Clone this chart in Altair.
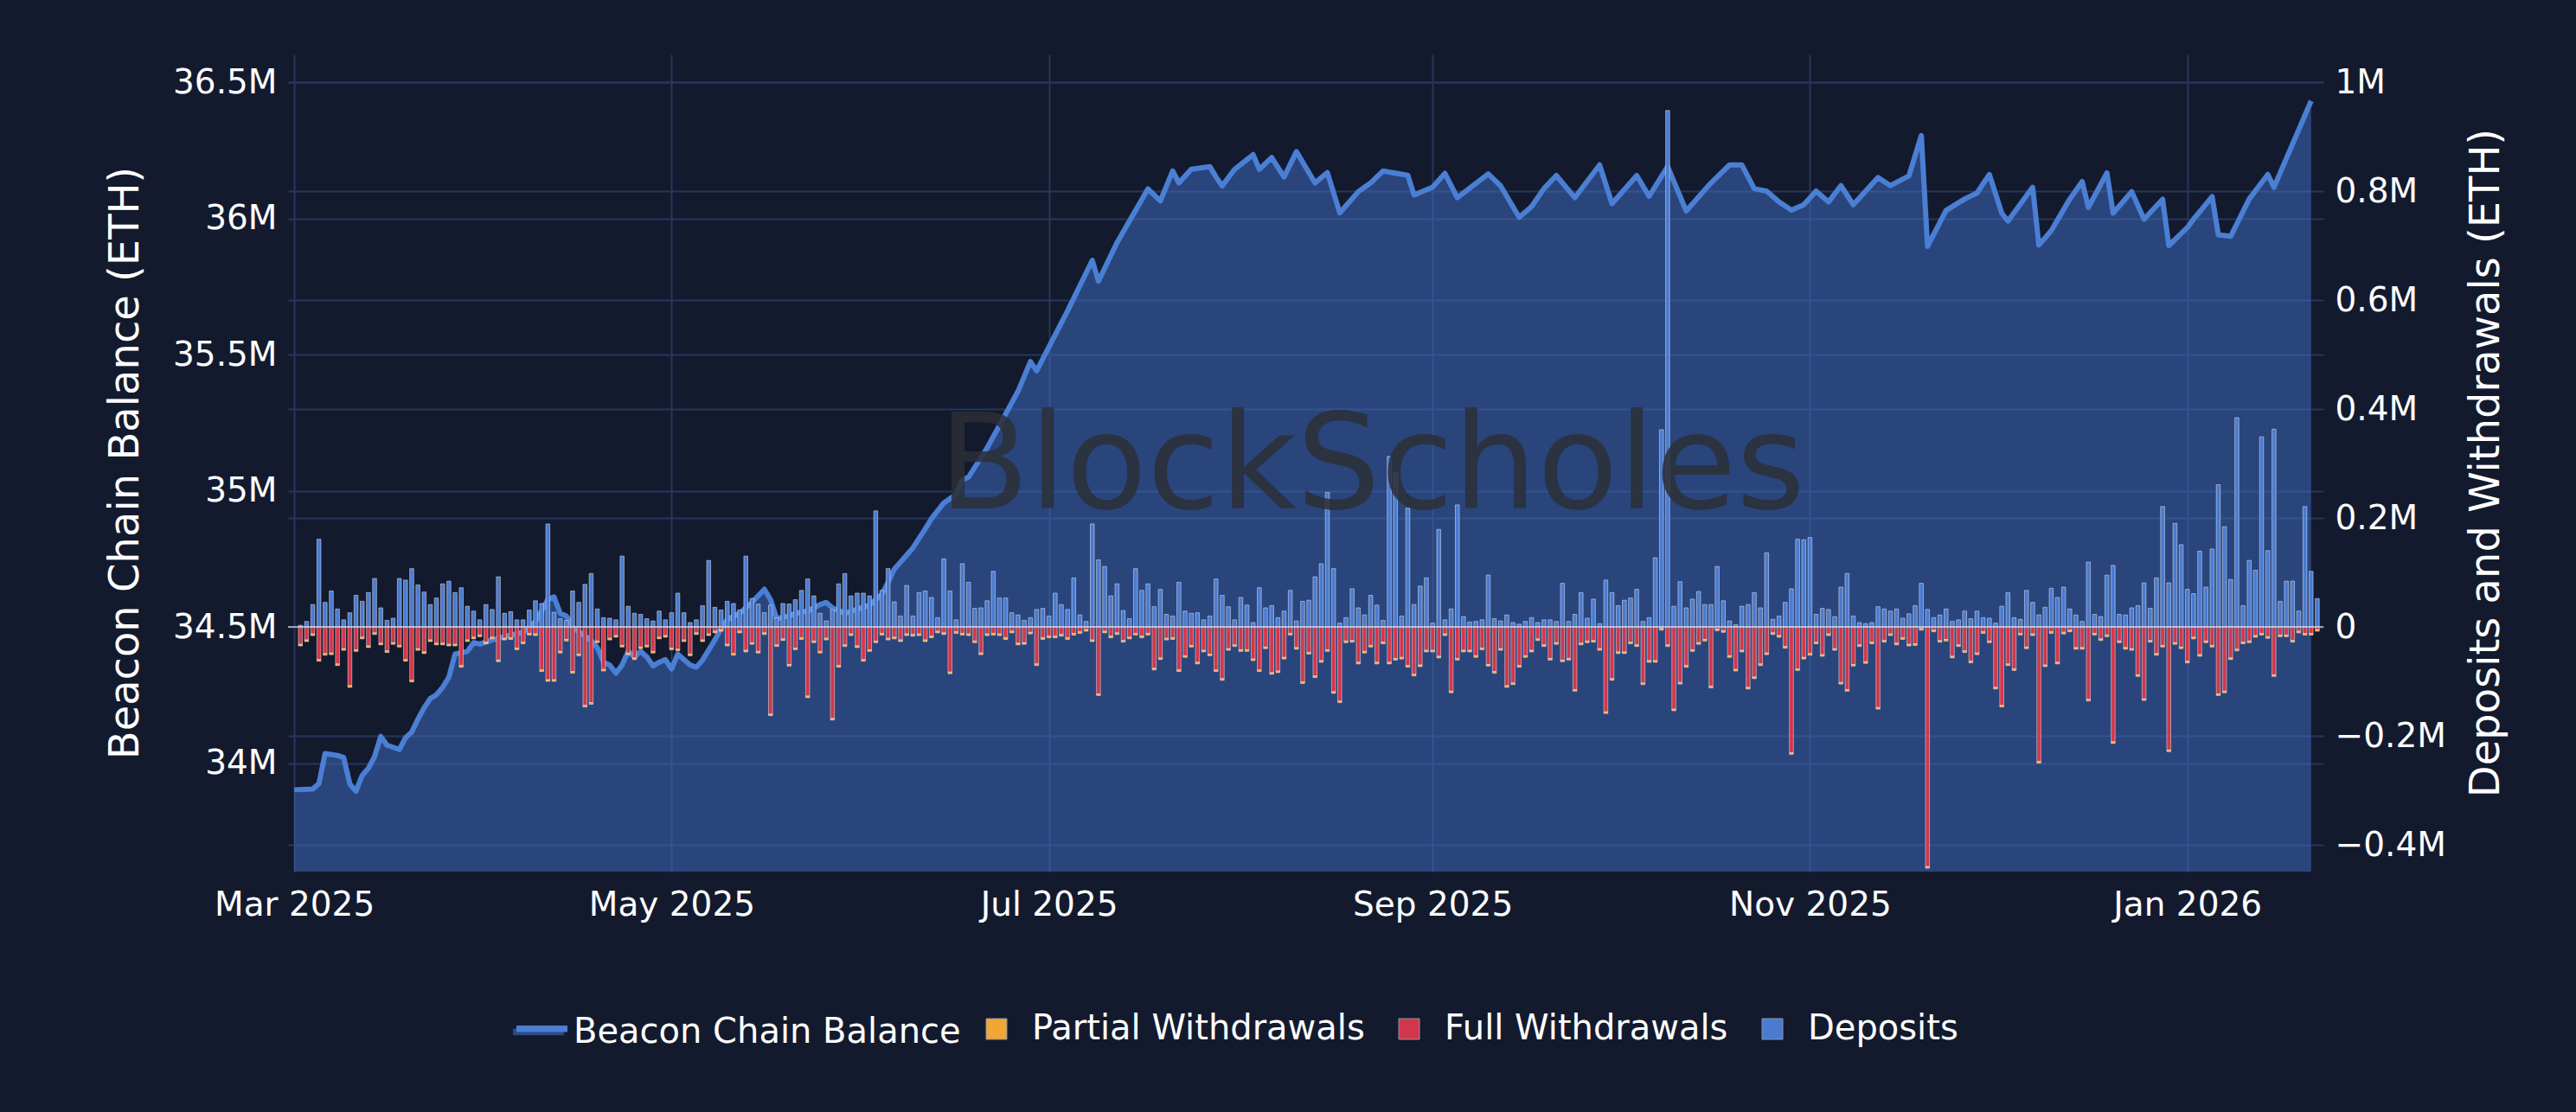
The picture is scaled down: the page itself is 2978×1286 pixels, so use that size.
import datetime as dt
import jinja2
import pandas as pd
import altair as alt

FONT = "DejaVu Sans"
BG = "#131a2e"
GRID = "#27365a"

# ---- daily flows (thousand ETH), bars from 2025-03-02 onward ----
deposits = [
    3, 10, 41, 161, 45, 66, 33, 13, 26, 58,
    47, 63, 89, 35, 12, 16, 89, 86, 107, 77,
    64, 41, 53, 79, 84, 63, 72, 38, 29, 13,
    41, 32, 92, 25, 28, 13, 13, 31, 48, 43,
    189, 27, 15, 12, 66, 45, 78, 98, 33, 17,
    16, 13, 130, 38, 25, 23, 15, 11, 29, 13,
    26, 62, 26, 8, 13,
    39, 122, 36, 31, 47,
    43, 31, 130, 52, 42, 26, 40, 17, 43, 42,
    50, 67, 88, 57, 25, 11, 32, 79, 98, 57,
    62, 62, 57, 213, 67, 107, 46, 20, 76, 20,
    63, 66, 54, 17, 125, 66, 13, 116, 82, 34,
    35, 48, 102, 53, 53, 26, 22, 12, 17, 32,
    34, 20, 62, 41, 32, 90, 22, 10, 189, 123,
    111, 57, 79, 30, 15, 107, 67, 79, 37, 69,
    23, 20, 82, 29, 25, 26, 13, 20, 88, 58,
    37, 13, 54, 40, 8, 72, 35, 39, 17, 29,
    67, 11, 47, 49, 92, 116, 247, 107, 7, 17,
    70, 35, 22, 58, 40, 12, 313, 283, 20, 218,
    41, 75, 90, 7, 179, 13, 33, 224, 19, 9,
    10, 13, 95, 15, 11, 22,
    8, 5, 10, 17, 8, 13, 13, 10, 80, 10,
    23, 63, 16, 51, 6, 86, 63, 39, 49, 53,
    69, 10, 17, 127, 362, 948, 38, 83, 35, 51,
    65, 41, 41, 111, 48, 11, 4, 38, 41, 63,
    35, 136, 14, 20, 45, 70, 161, 160, 164, 23,
    34, 32, 19, 73, 98, 20, 8, 6, 8, 37,
    33, 29, 33, 16, 24,
    39, 80, 32, 17, 22, 33, 10, 13, 29, 15,
    29, 17, 16, 7, 38, 63, 17, 14, 67, 45,
    22, 36, 71, 54, 73, 33, 22, 10, 119, 23,
    19, 95, 113, 23, 22, 35, 39, 81, 34, 90,
    221, 81, 190, 151, 69, 61, 139, 73, 143, 261,
    184, 87, 384, 39, 122, 104, 349, 140, 363, 47,
    84, 84, 29, 221, 102, 52,
]

full_withdrawals = [
    32, 24, 13, 60, 49, 48, 68, 40, 108, 42,
    19, 35, 11, 30, 44, 29, 34, 60, 98, 40,
    46, 24, 30, 30, 32, 32, 71, 24, 19, 15,
    28, 19, 61, 21, 20, 39, 28, 12, 13, 79,
    97, 97, 45, 23, 82, 50, 144, 139, 26, 78,
    21, 16, 34, 48, 57, 37, 34, 45, 19, 16,
    39, 41, 24, 50, 11,
    24, 13, 8, 5, 32,
    49, 8, 43, 29, 45, 11, 160, 33, 22, 69,
    39, 20, 127, 26, 45, 21, 168, 71, 33, 13,
    35, 60, 42, 26, 12, 21, 19, 24, 13, 14,
    13, 24, 17, 8, 11, 83, 9, 12, 13, 26,
    48, 13, 12, 13, 20, 8, 30, 29, 10, 68,
    20, 17, 17, 14, 20, 12, 9, 5, 24, 123,
    8, 17, 11, 25, 19, 12, 17, 12, 76, 57,
    21, 20, 79, 53, 34, 65, 43, 50, 79, 95,
    40, 33, 42, 42, 59, 79, 37, 84, 81, 56,
    12, 38, 101, 47, 90, 62, 42, 119, 136, 26,
    25, 65, 45, 34, 65, 28, 65, 58, 56, 71,
    87, 70, 43, 43, 54, 13, 118, 58, 43, 43,
    53, 39, 69, 82, 40, 108,
    103, 71, 53, 43, 22, 33, 58, 29, 61, 58,
    115, 30, 26, 25, 40, 156, 95, 46, 46, 28,
    33, 103, 62, 62, 3, 33, 151, 102, 71, 42,
    29, 23, 109, 4, 7, 53, 78, 43, 111, 92,
    68, 48, 11, 16, 36, 231, 77, 56, 49, 28,
    51, 13, 40, 102, 115, 69, 33, 64, 28, 148,
    25, 13, 30, 20, 32,
    31, 3, 440, 6, 25, 23, 54, 33, 44, 63,
    48, 9, 26, 111, 144, 68, 77, 12, 37, 13,
    247, 70, 9, 65, 10, 6, 38, 38, 133, 12,
    22, 15, 211, 26, 38, 40, 88, 132, 25, 49,
    34, 226, 29, 37, 63, 19, 51, 26, 34, 123,
    118, 57, 41, 28, 26, 16, 12, 18, 88, 15,
    15, 25, 8, 12, 12, 5,
]

partial_withdrawals = [
    3, 3, 3, 3, 3, 3, 3, 3, 3, 3, 3, 3, 3, 3, 3, 3, 3, 3, 3, 3, 3, 3, 3, 3, 3, 3, 3, 3, 3, 3,
    3, 3, 3, 3, 3, 3, 3, 3, 3, 3, 3, 3, 3, 3, 3, 3, 3, 3, 3, 3, 3, 3, 3, 3, 3, 3, 3, 3, 3, 3,
    3, 3, 3, 3, 3, 3, 3, 3, 3, 3, 3, 3, 3, 3, 3, 3, 3, 3, 3, 3, 3, 3, 3, 3, 3, 3, 3, 3, 3, 3,
    3, 3, 3, 3, 3, 3, 3, 3, 3, 3, 3, 3, 3, 3, 3, 3, 3, 3, 3, 3, 3, 3, 3, 3, 3, 3, 3, 3, 3, 3,
    3, 3, 3, 3, 3, 3, 3, 3, 3, 3, 3, 3, 3, 3, 3, 3, 3, 3, 3, 3, 3, 3, 3, 3, 3, 3, 3, 3, 3, 3,
    3, 3, 3, 3, 3, 3, 3, 3, 3, 3, 3, 3, 3, 3, 3, 3, 3, 3, 3, 3, 3, 3, 3, 3, 3, 3, 3, 3, 3, 3,
    3, 3, 3, 3, 3, 3, 3, 3, 3, 3, 3, 3, 3, 3, 3, 3, 3, 3, 3, 3, 3, 3, 3, 3, 3, 3, 3, 3, 3, 3,
    3, 3, 3, 3, 3, 3, 3, 3, 3, 3, 3, 3, 3, 3, 3, 3, 3, 3, 3, 3, 3, 3, 3, 3, 3, 3, 3, 3, 3, 3,
    3, 3, 3, 3, 3, 3, 3, 3, 3, 3, 3, 3, 3, 3, 3, 3, 3, 3, 3, 3, 3, 3, 3, 3, 3, 3, 3, 3, 3, 3,
    3, 3, 3, 3, 3, 3, 3, 3, 3, 3, 3, 3, 3, 3, 3, 3, 3, 3, 3, 3, 3, 3, 3, 3, 3, 3, 3, 3, 3, 3,
    3, 3, 3, 3, 3, 3, 3, 3, 3, 3, 3, 3, 3, 3, 3, 3, 3, 3, 3, 3, 3, 3, 3, 3, 3, 3, 3,
]

# ---- beacon chain balance (million ETH), day offsets from 2025-03-01 ----
bal_day = [
    0, 3, 4, 5, 7, 8, 9, 10, 11, 12, 13, 14, 15, 17, 18, 19, 20, 21, 22, 23,
    24, 25, 26, 28, 29, 30, 32, 35, 37, 39, 41, 42, 43, 44, 45, 48, 49, 50, 51, 52,
    53, 54, 55, 56, 57, 58, 59, 60, 61, 62, 64, 65, 66, 68, 69, 70, 72, 74, 76, 77,
    78, 80, 81, 83, 85, 86, 87, 88, 89, 93, 95, 96, 97, 100, 102, 103, 105, 107, 108, 109,
    112, 117, 119, 120, 125, 129, 130, 133, 138, 140, 142, 143, 145, 148, 149, 150, 152, 155, 156, 158,
    160, 162, 164, 165, 167, 169, 172, 174, 176, 180, 181, 184, 186, 188, 193, 195, 198, 200, 202, 204,
    207, 211, 213, 217, 219, 222, 225, 229, 232, 234, 236, 238, 240, 242, 244, 246, 248, 250, 252, 254,
    256, 258, 261, 263, 264, 267, 270, 272, 274, 276, 277, 281, 282, 284, 287, 289, 290, 293, 294, 297,
    299, 302, 303, 306, 307, 310, 311, 313, 316, 319, 320, 326,
]
bal_value = [
    33.902, 33.905, 33.925, 34.035, 34.028, 34.02, 33.923, 33.897, 33.955, 33.981,
    34.024, 34.098, 34.066, 34.050, 34.093, 34.114, 34.161, 34.203, 34.237, 34.251,
    34.278, 34.315, 34.40, 34.41, 34.442, 34.437, 34.452, 34.47, 34.48, 34.52,
    34.60, 34.61, 34.55, 34.54, 34.50, 34.45, 34.424, 34.37, 34.36, 34.33,
    34.36, 34.41, 34.39, 34.41, 34.39, 34.357, 34.37, 34.38, 34.346, 34.40,
    34.36, 34.352, 34.378, 34.452, 34.495, 34.527, 34.55, 34.59, 34.638, 34.60,
    34.53, 34.54, 34.55, 34.558, 34.582, 34.59, 34.57, 34.56, 34.55, 34.58,
    34.62, 34.664, 34.712, 34.79, 34.86, 34.897, 34.955, 34.987, 35.04, 35.05,
    35.157, 35.365, 35.474, 35.44, 35.66, 35.846, 35.769, 35.911, 36.108, 36.064,
    36.174, 36.13, 36.18, 36.19, 36.152, 36.119, 36.18, 36.234, 36.18, 36.223,
    36.152, 36.245, 36.168, 36.13, 36.168, 36.02, 36.098, 36.13, 36.174, 36.158,
    36.086, 36.114, 36.165, 36.076, 36.163, 36.119, 36.004, 36.043, 36.109, 36.157,
    36.076, 36.196, 36.054, 36.157, 36.081, 36.19, 36.027, 36.13, 36.196, 36.196,
    36.109, 36.10, 36.06, 36.03, 36.05, 36.10, 36.06, 36.12, 36.05, 36.10,
    36.15, 36.12, 36.156, 36.304, 35.897, 36.029, 36.071, 36.093, 36.161, 36.019,
    35.99, 36.114, 35.902, 35.955, 36.071, 36.135, 36.04, 36.167, 36.019, 36.098,
    35.997, 36.07, 35.90, 35.966, 35.997, 36.08, 35.94, 35.934, 36.071, 36.161,
    36.114, 36.431,
]

series_names = ["Partial Withdrawals", "Full Withdrawals", "Deposits"]
series_colors = ["#f0a733", "#d1374a", "#4a7bd0"]
balance_name = "Beacon Chain Balance"

left_ticks = [34, 34.5, 35, 35.5, 36, 36.5]
right_ticks = [-400, -200, 0, 200, 400, 600, 800, 1000]

# ---- tables ----
bar_start = dt.date(2025, 3, 2)
bar_dates = [(bar_start + dt.timedelta(days=i)).isoformat() for i in range(len(deposits))]
rows = []
for i, d in enumerate(bar_dates):
    rows.append({"date": d, "series": "Deposits", "value": deposits[i], "ord": 0})
    rows.append({"date": d, "series": "Full Withdrawals", "value": -full_withdrawals[i], "ord": 1})
    rows.append({"date": d, "series": "Partial Withdrawals", "value": -partial_withdrawals[i], "ord": 2})
bars_df = pd.DataFrame(rows)

line_start = dt.date(2025, 3, 1)
line_df = pd.DataFrame({
    "date": [(line_start + dt.timedelta(days=d)).isoformat() for d in bal_day],
    "balance": bal_value,
    "line_name": balance_name,
    "area_name": balance_name + " ",
})

# ---- scales / axes ----
x_scale = alt.Scale(
    type="utc",
    domain=[alt.DateTime(year=2025, month=2, date=28, hours=17, utc=True),
            alt.DateTime(year=2026, month=1, date=22, hours=7, utc=True)],
)
x_axis = alt.Axis(
    values=[alt.DateTime(year=2025, month=m, date=1, utc=True) for m in (3, 5, 7, 9, 11)]
    + [alt.DateTime(year=2026, month=1, date=1, utc=True)],
    format="%b %Y", title=None, labelFont=FONT, labelFontSize=39, labelColor="#ffffff",
    labelPadding=19, labelLimit=0, ticks=False, tickSize=0, domain=False, grid=True,
    gridColor=GRID, gridWidth=2, labelFlush=False, labelOverlap=False,
)
x_enc = alt.X("date:T", scale=x_scale, axis=x_axis)

l_scale = alt.Scale(domain=[33.6016, 36.6016], nice=False, zero=False)
l_axis = alt.Axis(
    orient="left", values=left_ticks, labelExpr="format(datum.value, '.1~f') + 'M'",
    title="Beacon Chain Balance (ETH)", titleFont=FONT, titleFontSize=48, titleFontWeight="normal",
    titleColor="#ffffff", titleAngle=270, titleX=-188, titleY=472, titleAlign="center",
    titleBaseline="middle", labelFont=FONT, labelFontSize=39, labelColor="#ffffff", labelPadding=13,
    labelLimit=0, ticks=False, tickSize=0, domain=False, grid=True, gridColor=GRID, gridWidth=2,
)
r_scale = alt.Scale(domain=[-449.2, 1050.8], nice=False, zero=False)
r_axis = alt.Axis(
    orient="right", values=right_ticks,
    labelExpr="datum.value == 0 ? '0' : format(datum.value / 1000, '.1~f') + 'M'",
    title="Deposits and Withdrawals (ETH)", titleFont=FONT, titleFontSize=48, titleFontWeight="normal",
    titleColor="#ffffff", titleAngle=270, titleX=188, titleY=472, titleAlign="center",
    titleBaseline="middle", labelFont=FONT, labelFontSize=39, labelColor="#ffffff", labelPadding=13,
    labelLimit=0, ticks=False, tickSize=0, domain=False, grid=True, gridColor=GRID, gridWidth=2,
)

area = alt.Chart(line_df).mark_area(clip=True, opacity=0.55).encode(
    x=x_enc,
    y=alt.Y("balance:Q", scale=l_scale, axis=l_axis),
    fill=alt.Fill("area_name:N", scale=alt.Scale(domain=[balance_name + " "], range=["#3e6abe"]),
                  legend=alt.Legend(orient="none", legendX=260, legendY=1097, title=None,
                                    symbolType="M-1,0H1V0.26H-1Z", symbolSize=3481,
                                    symbolStrokeWidth=0, symbolOpacity=0.6, labelExpr="''",
                                    labelFontSize=40, padding=0)),
)
line = alt.Chart(line_df).mark_line(clip=True, strokeWidth=6, strokeJoin="round").encode(
    x=x_enc,
    y=alt.Y("balance:Q", scale=l_scale, axis=l_axis),
    stroke=alt.Stroke("line_name:N", scale=alt.Scale(domain=[balance_name], range=["#4a7fd4"]),
                      legend=alt.Legend(orient="none", legendX=260, legendY=1097, title=None,
                                        symbolType="M-1,-0.13H1", symbolSize=3481,
                                        symbolStrokeWidth=7.5, symbolOpacity=1,
                                        labelFont=FONT, labelFontSize=40, labelColor="#ffffff",
                                        labelOffset=3, labelLimit=0, padding=0)),
)

bars = alt.Chart(bars_df).mark_bar(
    clip=True, width=4.6, stroke="#ffffff", strokeOpacity=0.45, strokeWidth=1
).encode(
    x=x_enc,
    y=alt.Y("value:Q", stack="zero", scale=r_scale, axis=r_axis),
    color=alt.Color("series:N", scale=alt.Scale(domain=series_names, range=series_colors),
                    legend=alt.Legend(orient="none", legendX=799, legendY=1107, title=None,
                                      direction="horizontal", symbolType="square", symbolSize=576,
                                      symbolStrokeWidth=1, symbolStrokeColor="#8a93a8",
                                      symbolOpacity=1, labelFont=FONT, labelFontSize=40,
                                      labelColor="#ffffff", labelOffset=21, columnPadding=31,
                                      labelLimit=0, padding=0)),
    order=alt.Order("ord:Q"),
)

zero_rule = alt.Chart(pd.DataFrame({"z": [0]})).mark_rule(
    color="#c9d4ea", strokeWidth=2, opacity=0.7
).encode(y=alt.Y("z:Q", scale=r_scale, axis=r_axis))

watermark = alt.Chart(pd.DataFrame({"wm": ["BlockScholes"]})).mark_text(
    font=FONT, fontSize=153, color="#2c2f36", opacity=0.85, align="center", baseline="alphabetic"
).encode(text="wm:N", x=alt.value(1253), y=alt.value(525))

chart = alt.layer(
    alt.layer(area, line),
    alt.layer(bars, zero_rule, watermark),
).resolve_scale(y="independent").properties(
    width=2353, height=945,
    padding={"left": 325, "top": 55, "right": 284, "bottom": 270},
    autosize=alt.AutoSizeParams(type="none"),
).configure(background=BG, font=FONT).configure_view(strokeOpacity=0)

PAGE = jinja2.Template("""<!DOCTYPE html>
<html>
<head>
<meta charset="utf-8">
<style>html, body { background: #131a2e; }</style>
<script type="text/javascript" src="{{ base_url }}/vega@{{ vega_version }}"></script>
<script type="text/javascript" src="{{ base_url }}/vega-lite@{{ vegalite_version }}"></script>
<script type="text/javascript" src="{{ base_url }}/vega-embed@{{ vegaembed_version }}"></script>
</head>
<body>
<div id="{{ output_div }}"></div>
<script>
vegaEmbed("#{{ output_div }}", {{ spec }}, {{ embed_options }}).catch(function (e) {
  document.body.innerHTML = '<pre style="color:red">' + e + '</pre>';
});
</script>
</body>
</html>""")

chart.save("out.html", embed_options={"renderer": "svg", "actions": False}, template=PAGE)
